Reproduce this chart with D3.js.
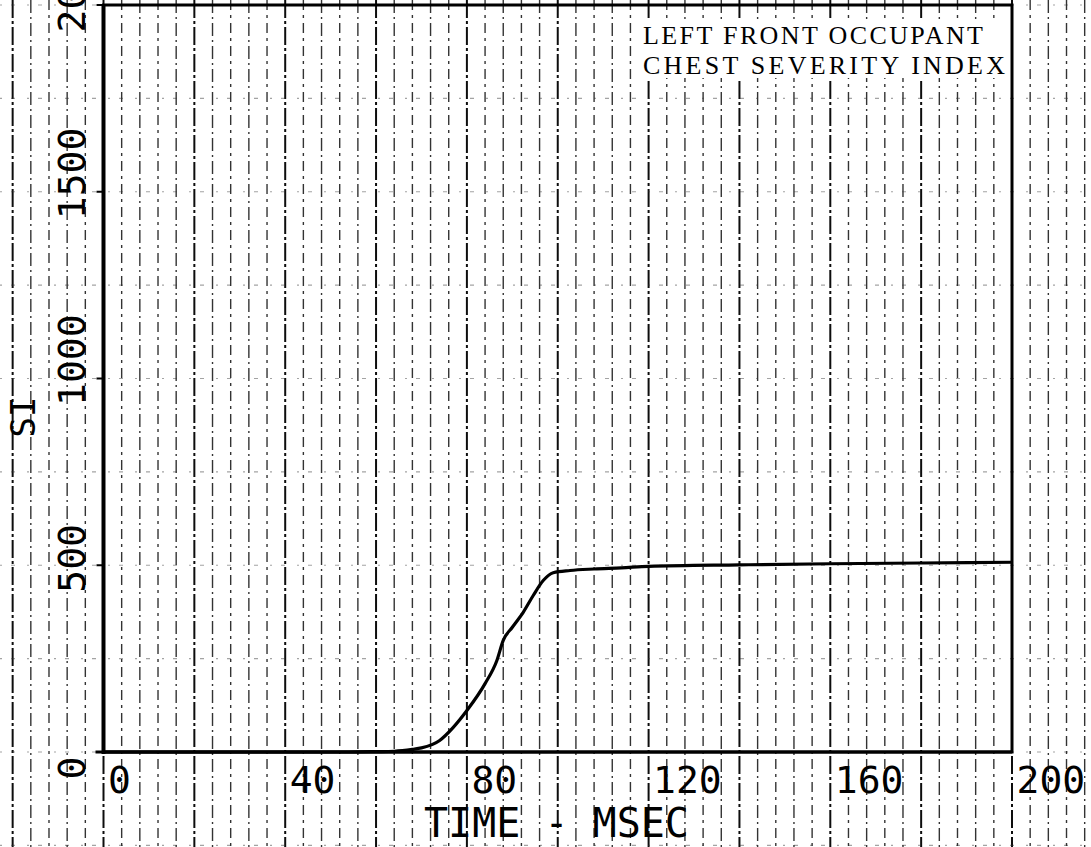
<!DOCTYPE html>
<html>
<head>
<meta charset="utf-8">
<script src="https://cdn.jsdelivr.net/npm/d3@7"></script>
<style>
  html, body { margin: 0; padding: 0; background: #fff; }
  svg { display: block; }
</style>
</head>
<body>
<svg id="chart" width="1091" height="847"></svg>
<script>
// ---- data ----
const timeMs = [0, 54, 60, 64, 68, 70, 74, 77, 80, 84, 86.6, 88, 90, 92.4, 94.6, 96.8, 99, 102.7, 108, 114, 120, 140, 160, 180, 200];
const severityIndex = [0, 0, 1, 2, 7, 11, 31, 66, 111, 183, 245, 299, 334, 374, 419, 459, 480, 486, 490, 493, 497, 501, 504, 506, 508];
const xTicks = [0, 40, 80, 120, 160, 200];
const yTicks = [0, 500, 1000, 1500, 2000];
const titleLines = ["LEFT FRONT OCCUPANT", "CHEST SEVERITY INDEX"];
const xTitle = "TIME - MSEC";
const yTitle = "SI";

const W = 1091, H = 847;
const svg = d3.select("#chart");
svg.append("rect").attr("width", W).attr("height", H).attr("fill", "#fff");

const x = d3.scaleLinear().domain([0, 200]).range([103.5, 1012]);
const y = d3.scaleLinear().domain([0, 2000]).range([752, 5]);

const mono = "'DejaVu Sans Mono', monospace";

// ---- graph-paper grid (covers whole sheet) ----
const grid = svg.append("g");
const vLines = d3.range(-20, 220, 4);
grid.selectAll("line.v").data(vLines).join("line")
  .attr("x1", d => x(d)).attr("x2", d => x(d))
  .attr("y1", 0).attr("y2", H)
  .attr("stroke", "#000")
  .attr("stroke-opacity", d => d % 20 === 0 ? 0.95 : 0.8)
  .attr("stroke-width", d => d % 20 === 0 ? 2 : 1.4)
  .attr("stroke-dasharray", (d, i) => d % 20 === 0 ? "18,3,3,3" : (i % 2 ? "13,4,2,4" : "10,5,3,5"));

const hLines = d3.range(-250, 2001, 250);
grid.selectAll("line.h").data(hLines).join("line")
  .attr("x1", 0).attr("x2", W)
  .attr("y1", d => y(d)).attr("y2", d => y(d))
  .attr("stroke", "#333")
  .attr("stroke-opacity", 0.45)
  .attr("stroke-width", 1.2)
  .attr("stroke-dasharray", "2,9,4,12");

// white box behind the title
svg.append("rect").attr("x", 638).attr("y", 21).attr("width", 372).attr("height", 57).attr("fill", "#fff");

// ---- frame ----
svg.append("rect")
  .attr("x", x(0)).attr("y", y(2000))
  .attr("width", x(200) - x(0)).attr("height", y(0) - y(2000))
  .attr("fill", "none").attr("stroke", "#000").attr("stroke-width", 3);
svg.append("line").attr("x1", x(0)).attr("x2", x(0)).attr("y1", y(2000) - 1).attr("y2", y(0) + 2)
  .attr("stroke", "#000").attr("stroke-width", 4);
svg.append("line").attr("x1", x(0) - 8).attr("x2", x(200)).attr("y1", y(0)).attr("y2", y(0))
  .attr("stroke", "#000").attr("stroke-width", 3);
// small y tick marks
svg.selectAll("line.yt").data(yTicks).join("line")
  .attr("x1", x(0) - 7).attr("x2", x(0)).attr("y1", d => y(d)).attr("y2", d => y(d))
  .attr("stroke", "#000").attr("stroke-width", 2);

// ---- curve ----
const line = d3.line()
  .x((d, i) => x(timeMs[i]))
  .y(d => y(d))
  .curve(d3.curveMonotoneX);
svg.append("path").datum(severityIndex)
  .attr("d", line)
  .attr("fill", "none").attr("stroke", "#000").attr("stroke-width", 3.2)
  .attr("stroke-linejoin", "round");

// ---- axes (labels only) ----
const xAxis = svg.append("g").attr("transform", "translate(0,793)")
  .call(d3.axisBottom(x).tickValues(xTicks).tickSize(0).tickFormat(d3.format("d")));
xAxis.select(".domain").remove();
xAxis.selectAll("text")
  .attr("x", 4).attr("y", 0).attr("dy", 0)
  .attr("text-anchor", "start")
  .attr("font-family", mono).attr("font-size", 38).attr("fill", "#000");

const yAxis = svg.append("g").attr("transform", "translate(85,0)")
  .call(d3.axisLeft(y).tickValues(yTicks).tickSize(0).tickFormat(d3.format("d")));
yAxis.select(".domain").remove();
yAxis.selectAll("text")
  .attr("x", 0).attr("y", 0).attr("dy", 0)
  .attr("transform", "translate(0,27) rotate(-90)")
  .attr("text-anchor", "start")
  .attr("font-family", mono).attr("font-size", 38).attr("fill", "#000");

// ---- axis titles ----
svg.append("text")
  .attr("x", 424).attr("y", 837)
  .attr("font-family", mono).attr("font-size", 40).attr("fill", "#000")
  .style("white-space", "pre")
  .text(xTitle);

svg.append("text")
  .attr("transform", "translate(35,417) rotate(-90)")
  .attr("text-anchor", "middle")
  .attr("font-family", mono).attr("font-size", 34).attr("fill", "#000")
  .text(yTitle);

// ---- title (typewriter serif) ----
const titleWidths = [340, 362];
svg.selectAll("text.title").data(titleLines).join("text")
  .attr("class", "title")
  .attr("x", 643).attr("y", (d, i) => 44 + i * 30)
  .attr("font-family", "'Liberation Serif', serif")
  .attr("font-size", 26).attr("fill", "#000")
  .attr("textLength", (d, i) => titleWidths[i])
  .attr("lengthAdjust", "spacing")
  .text(d => d);
</script>
</body>
</html>
